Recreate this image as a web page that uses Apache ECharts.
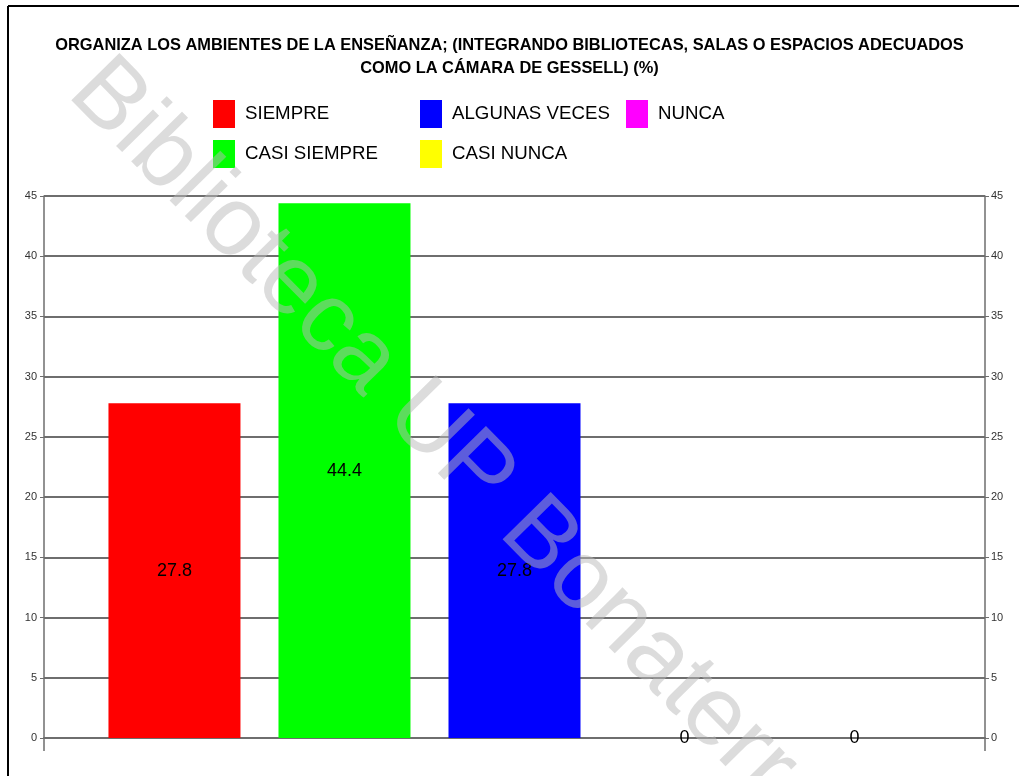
<!DOCTYPE html>
<html>
<head>
<meta charset="utf-8">
<script src="https://cdn.jsdelivr.net/npm/echarts@6/dist/echarts.min.js"></script>
<style>
  html, body { margin: 0; padding: 0; background: #fff; }
  #chart { width: 1019px; height: 776px; }
</style>
</head>
<body>
<div id="chart"></div>
<script>
// datos del gráfico
const categorias = ['']
const series = ['SIEMPRE', 'CASI SIEMPRE', 'ALGUNAS VECES', 'CASI NUNCA', 'NUNCA']
const valores = [27.8, 44.4, 27.8, 0, 0]
const colores = ['#ff0000', '#00ff00', '#0000ff', '#ffff00', '#ff00ff']
const titulo = 'ORGANIZA LOS AMBIENTES DE LA ENSEÑANZA; (INTEGRANDO BIBLIOTECAS, SALAS O ESPACIOS ADECUADOS\nCOMO LA CÁMARA DE GESSELL) (%)'
const marcaAgua = 'Biblioteca UP Bonaterra'

const fuente = '"Liberation Sans", Arial, sans-serif'
const gris = '#6e6e6e'

const chart = echarts.init(document.getElementById('chart'))

// leyenda en columnas, como en el original
const columnas = [
  { left: 213, data: ['SIEMPRE', 'CASI SIEMPRE'] },
  { left: 420, data: ['ALGUNAS VECES', 'CASI NUNCA'] },
  { left: 626, data: ['NUNCA'] }
]

const ejeY = {
  type: 'value',
  min: 0,
  max: 45,
  interval: 5,
  axisLine: { show: true, lineStyle: { color: gris, width: 1.5 } },
  axisTick: { show: true, length: 4, lineStyle: { color: gris } },
  axisLabel: { color: '#333', fontSize: 11, fontFamily: fuente }
}

chart.setOption({
  animation: false,
  backgroundColor: '#fff',
  title: {
    text: titulo,
    left: 'center',
    top: 29,
    textStyle: {
      fontFamily: fuente,
      fontWeight: 'bold',
      fontSize: 16.4,
      lineHeight: 23,
      color: '#000'
    }
  },
  legend: columnas.map(c => ({
    data: c.data,
    orient: 'vertical',
    left: c.left,
    top: 100,
    padding: 0,
    itemWidth: 22,
    itemHeight: 28,
    itemGap: 12,
    icon: 'rect',
    selectedMode: false,
    textStyle: { fontFamily: fuente, fontSize: 18.7, color: '#000', padding: [0, 0, 0, 5] }
  })),
  grid: { left: 44, right: 34, top: 196, bottom: 38, containLabel: false },
  xAxis: {
    type: 'category',
    data: categorias,
    axisLine: { show: true, lineStyle: { color: gris, width: 2 } },
    axisTick: { show: true, length: 13, lineStyle: { color: gris, width: 1.5 } },
    axisLabel: { show: false }
  },
  yAxis: [
    Object.assign({}, ejeY, {
      position: 'left',
      axisLabel: Object.assign({}, ejeY.axisLabel, { margin: 7 }),
      splitLine: { show: true, lineStyle: { color: gris, width: 2 } }
    }),
    Object.assign({}, ejeY, {
      position: 'right',
      axisLabel: Object.assign({}, ejeY.axisLabel, { margin: 6 }),
      splitLine: { show: false }
    })
  ],
  series: series.map((nombre, i) => ({
    name: nombre,
    type: 'bar',
    data: [valores[i]],
    barWidth: 132,
    barGap: '28.8%',
    itemStyle: { color: colores[i] },
    label: {
      show: true,
      position: 'inside',
      color: '#000',
      fontSize: 18,
      fontFamily: fuente
    }
  })),
  graphic: [
    // marco
    { type: 'line', shape: { x1: 8, y1: 6, x2: 1019, y2: 6 }, style: { stroke: '#000', lineWidth: 2 }, z: 50 },
    { type: 'line', shape: { x1: 8, y1: 6, x2: 8, y2: 776 }, style: { stroke: '#000', lineWidth: 2 }, z: 50 },
    // marca de agua
    {
      type: 'text',
      x: 50,
      y: 110,
      rotation: -45.5 * Math.PI / 180,
      z: 100,
      silent: true,
      style: {
        text: marcaAgua,
        fontFamily: fuente,
        fontSize: 98,
        fill: 'rgba(185,185,185,0.5)',
        verticalAlign: 'bottom'
      }
    }
  ]
})
</script>
</body>
</html>
